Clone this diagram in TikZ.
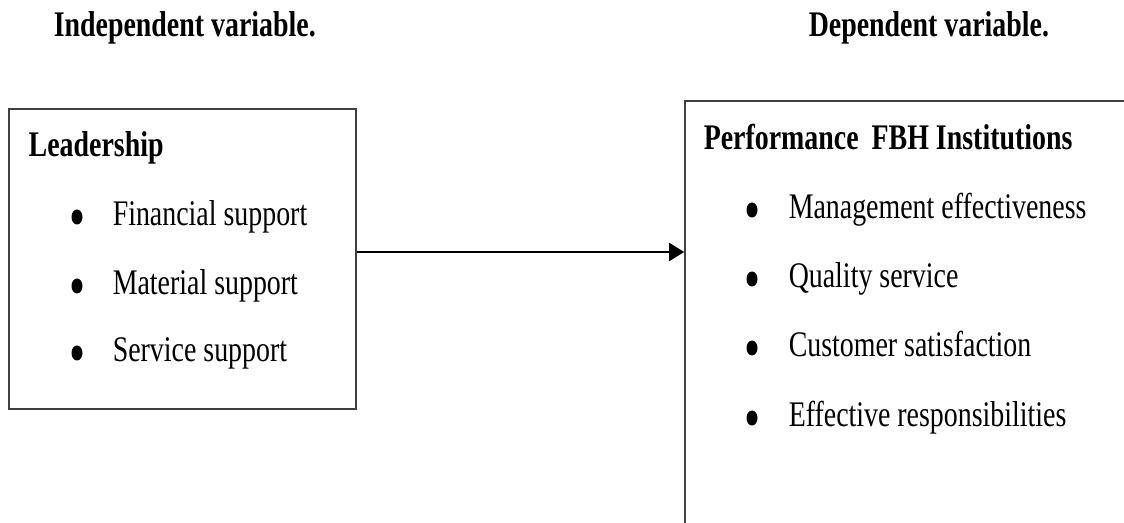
\documentclass[tikz,border=0pt]{standalone}
\usepackage{fontspec}
\setmainfont{Liberation Serif}[FakeStretch=0.775]
\usetikzlibrary{arrows.meta,positioning,shapes.geometric}
\tikzset{every picture/.style={line width=0.75pt}}
\newcommand{\tallfont}{\fontsize{18}{20}\selectfont}
\tikzset{
  box/.style={draw=black!75, line width=0.8pt, inner sep=0},
  txt/.style={anchor=base west, inner sep=0, font=\tallfont},
  head/.style={txt, font=\tallfont\bfseries},
  dot/.style={ellipse, fill, inner sep=0, minimum width=5.5pt, minimum height=7.5pt}
}

\begin{document}
\begin{tikzpicture}[x=0.5pt, y=-0.5pt]
    \useasboundingbox (0,0) rectangle (1124,523);
    \clip (0,0) rectangle (1124,523);

    % 标题
    \node[head] (indep) at (53,37) {Independent variable.};
    \node[head] (dep) at (808,37) {Dependent variable.};

    % 左框
    \node[box, minimum width=173.5pt, minimum height=150pt] (lead) at (182.5,259) {};
    \node[head] (leadtitle) at (28,157) {Leadership};
    \node[dot] (b1) at (77,217) {};
    \node[txt] (fin) at (112,226) {Financial support};
    \node[dot] (b2) at (77,286) {};
    \node[txt] (mat) at (112,295) {Material support};
    \node[dot] (b3) at (77,353) {};
    \node[txt] (serv) at (112,362) {Service support};

    % 右框
    \node[box, minimum width=227.5pt, minimum height=219.5pt] (perf) at (912.5,320.5) {};
    \node[head] (perftitle) at (703,150) {Performance\hspace{3pt} FBH Institutions};
    \node[dot] (c1) at (752,210) {};
    \node[txt] (mgmt) at (788,219) {Management effectiveness};
    \node[dot] (c2) at (752,279) {};
    \node[txt] (qual) at (788,288) {Quality service};
    \node[dot] (c3) at (752,348) {};
    \node[txt] (cust) at (788,357) {Customer satisfaction};
    \node[dot] (c4) at (752,418) {};
    \node[txt] (resp) at (788,427) {Effective responsibilities};

    % 箭头
    \draw[-{Triangle[length=7.5pt, width=9pt]}, line width=1pt]
        ([yshift=3.5pt]lead.east) -- ([yshift=3.5pt]lead.east -| perf.west);
\end{tikzpicture}
\end{document}
